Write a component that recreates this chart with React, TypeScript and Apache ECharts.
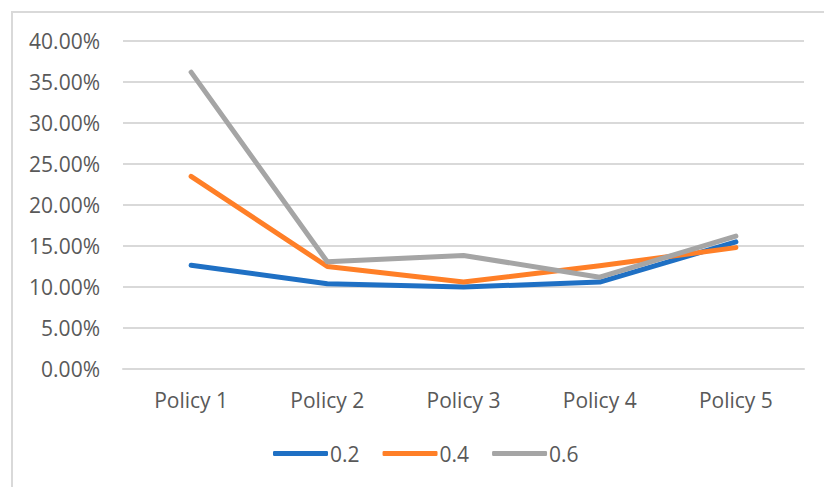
import React, { useEffect, useRef } from "react";
import * as echarts from "echarts";

// Policy outcomes (in percent) for three parameter settings
const categories = ["Policy 1", "Policy 2", "Policy 3", "Policy 4", "Policy 5"];
const seriesNames = ["0.2", "0.4", "0.6"];
const values02 = [12.65, 10.4, 10.0, 10.6, 15.5];
const values04 = [23.5, 12.5, 10.6, 12.6, 14.8];
const values06 = [36.2, 13.07, 13.85, 11.2, 16.2];
const colors = ["#1F70C4", "#FF7F27", "#A5A5A5"];

const FONT = "'Open Sans', sans-serif";
const TEXT = "#595959";
const GRID = "#D9D9D9";

export default function App() {
  const ref = useRef<HTMLDivElement>(null);

  useEffect(() => {
    if (!ref.current) return;
    const chart = echarts.init(ref.current, null, { renderer: "svg" });
    const data = [values02, values04, values06];
    chart.setOption({
      animation: false,
      backgroundColor: "#ffffff",
      color: colors,
      textStyle: { fontFamily: FONT },
      graphic: [
        {
          type: "rect",
          shape: { x: 12, y: 12, width: 900, height: 600 },
          style: { fill: "none", stroke: GRID, lineWidth: 2 },
          silent: true,
        },
      ],
      grid: { left: 123, right: 20, top: 41, height: 328, containLabel: false },
      legend: {
        left: 268,
        top: 438,
        icon: "roundRect",
        itemWidth: 55,
        itemHeight: 5,
        itemGap: 23,
        data: seriesNames,
        textStyle: {
          color: TEXT,
          fontSize: 21,
          fontFamily: FONT,
          padding: [0, 0, 0, -3],
        },
      },
      xAxis: {
        type: "category",
        data: categories,
        boundaryGap: true,
        axisLine: { show: true, lineStyle: { color: GRID, width: 2 } },
        axisTick: { show: false },
        axisLabel: { color: TEXT, fontSize: 21, fontFamily: FONT, margin: 20 },
      },
      yAxis: {
        type: "value",
        min: 0,
        max: 40,
        interval: 5,
        axisLine: { show: false },
        axisTick: { show: false },
        splitLine: { lineStyle: { color: GRID, width: 2 } },
        axisLabel: {
          color: TEXT,
          fontSize: 21,
          fontFamily: FONT,
          margin: 23,
          formatter: (v: number) => v.toFixed(2) + "%",
        },
      },
      series: seriesNames.map((name, i) => ({
        name,
        type: "line",
        data: data[i],
        symbol: "none",
        lineStyle: { width: 5, color: colors[i], cap: "round", join: "round" },
        itemStyle: { color: colors[i] },
      })),
    });
    return () => chart.dispose();
  }, []);

  return (
    <div
      ref={ref}
      style={{ position: "absolute", left: 0, top: 0, width: 824, height: 487 }}
    />
  );
}
